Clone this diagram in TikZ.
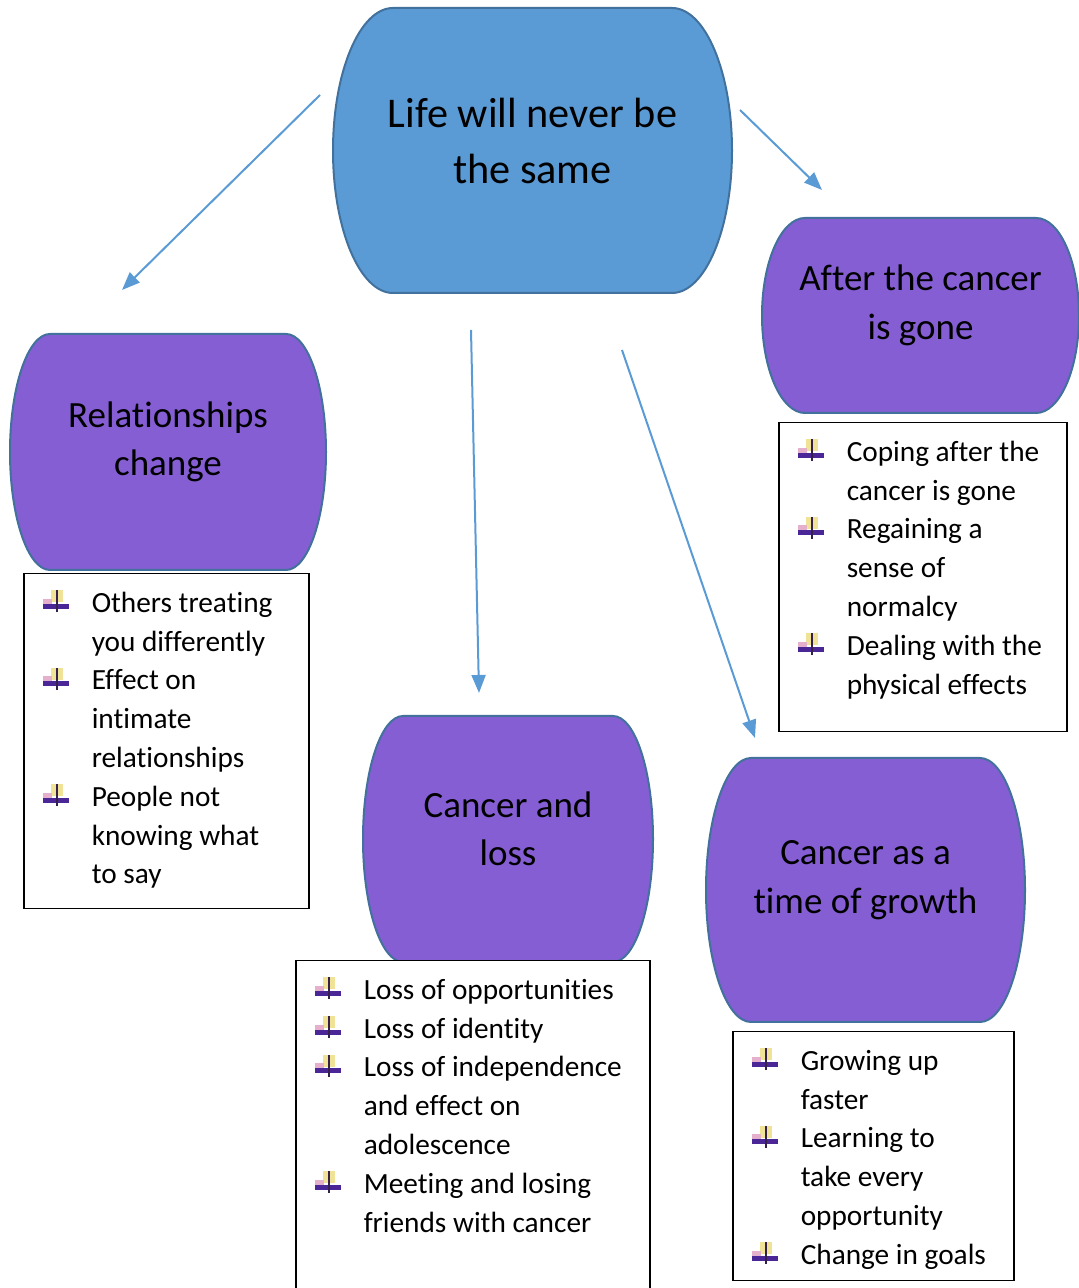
\documentclass[tikz,border=0pt]{standalone}
\usepackage{fontspec}
\setmainfont{Carlito}[Ligatures=NoCommon]
\usepackage{tikz}
\usetikzlibrary{arrows.meta, backgrounds}

\definecolor{lifeblue}{RGB}{91,155,213}
\definecolor{edgeblue}{RGB}{65,113,156}
\definecolor{topicpurple}{RGB}{133,94,212}
\definecolor{arrowblue}{RGB}{91,155,213}
\definecolor{bulyel}{RGB}{240,226,150}
\definecolor{bulpink}{RGB}{228,176,204}
\definecolor{bulpur}{RGB}{74,38,150}
\definecolor{buldark}{RGB}{52,32,72}

% list bullet and hanging indent
\newcommand\bul{\makebox[68pt][l]{\hspace{19pt}%
  \rlap{\hspace{8pt}\textcolor{bulyel}{\rule[10pt]{12pt}{12pt}}}%
  \rlap{\textcolor{bulpink}{\rule[3.5pt]{9pt}{10pt}}}%
  \rlap{\textcolor{bulpur}{\rule[3.5pt]{26pt}{5pt}}}%
  \rlap{\hspace{13pt}\textcolor{buldark}{\rule{2.5pt}{22pt}}}}}
\newcommand\ind{\hspace*{68pt}}
\newcommand\firstline{\rule{0pt}{38.5pt}}

\tikzset{
  bigtext/.style={align=center, font=\fontsize{42.3}{56}\selectfont, inner sep=0},
  topictext/.style={align=center, font=\fontsize{37}{48.5}\selectfont, inner sep=0},
  listbox/.style={draw=black, line width=1.5pt, fill=white, inner sep=0, anchor=north west,
    font=\fontsize{29.3}{38.8}\selectfont},
  bubbleline/.style={draw=edgeblue, line width=2pt},
  arr/.style={draw=arrowblue, line width=2pt, -{Triangle[length=18pt,width=14pt]}}
}

% bubble round a text node: node, width, half height, side radius, fill
\newcommand\bubble[5]{%
  \path[bubbleline, fill=#5] ([shift={(-#2/2+#4,#3-10)}]#1.center) -- ++(#2-2*#4,0)
    arc[start angle=90, end angle=-90, x radius=#4pt, y radius=#3pt]
    -- ++(-#2+2*#4,0)
    arc[start angle=270, end angle=90, x radius=#4pt, y radius=#3pt] -- cycle;}

\begin{document}
\begin{tikzpicture}[x=1pt, y=1pt]
  \useasboundingbox (0,0) rectangle (1079,1288);

  % Centre topic
  \node[bigtext] (life) at (532.5,1147.5) {Life will never be\\the same};

  % Sub topics
  \node[topictext] (after) at (920.5,982.5) {After the cancer\\is gone};
  \node[topictext] (rel) at (168,846) {Relationships\\change};
  \node[topictext] (loss) at (508,459) {Cancer and\\loss};
  \node[topictext] (growth) at (865.5,408) {Cancer as a\\time of growth};

  % Bubbles behind the texts
  \begin{pgfonlayer}{background}
    \bubble{life}{399}{142.5}{60}{lifeblue}
    \bubble{after}{317}{97.5}{43}{topicpurple}
    \bubble{rel}{316}{118}{40}{topicpurple}
    \bubble{loss}{290}{123}{40}{topicpurple}
    \bubble{growth}{319}{132}{45}{topicpurple}
  \end{pgfonlayer}

  % Lists
  \node[listbox] (rel-list) at (23,715) {\parbox[t][335pt][t]{285pt}{\firstline
    \bul Others treating\\ \ind you differently\\
    \bul Effect on\\ \ind intimate\\ \ind relationships\\
    \bul People not\\ \ind knowing what\\ \ind to say}};
  \node[listbox] (after-list) at (778,866) {\parbox[t][309pt][t]{288pt}{\firstline
    \bul Coping after the\\ \ind cancer is gone\\
    \bul Regaining a\\ \ind sense of\\ \ind normalcy\\
    \bul Dealing with the\\ \ind physical effects}};
  \node[listbox] (loss-list) at (295,328) {\parbox[t][345pt][t]{354pt}{\firstline
    \bul Loss of opportunities\\
    \bul Loss of identity\\
    \bul Loss of independence\\ \ind and effect on\\ \ind adolescence\\
    \bul Meeting and losing\\ \ind friends with cancer}};
  \node[listbox] (growth-list) at (732,257) {\parbox[t][249pt][t]{281pt}{\firstline
    \bul Growing up\\ \ind faster\\
    \bul Learning to\\ \ind take every\\ \ind opportunity\\
    \bul Change in goals}};

  % Arrow ends
  \coordinate (life-rel) at (320,1193);
  \coordinate (rel-top) at (122,998);
  \coordinate (life-after) at (740,1178);
  \coordinate (after-top) at (822,1098);
  \coordinate (life-loss) at (471,958);
  \coordinate (loss-top) at (479,595);
  \coordinate (life-growth) at (622,938);
  \coordinate (growth-top) at (755,550);

  % Arrows
  \draw[arr] (life-rel) -- (rel-top);
  \draw[arr] (life-after) -- (after-top);
  \draw[arr] (life-loss) -- (loss-top);
  \draw[arr] (life-growth) -- (growth-top);
\end{tikzpicture}
\end{document}
